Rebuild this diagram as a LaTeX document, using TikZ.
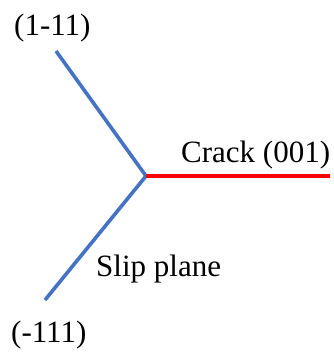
\documentclass[tikz,border=0pt]{standalone}
\usepackage{fontspec}
\setmainfont{Liberation Serif}
\usetikzlibrary{positioning}
\definecolor{sblue}{HTML}{4472C4}
\definecolor{cred}{HTML}{FF0000}

\begin{document}
\begin{tikzpicture}[x=1pt, y=-1pt,
    plane/.style={line width=3.6pt, sblue},
    crack/.style={line width=3.6pt, cred},
    lbl/.style={font=\fontsize{31}{37}\selectfont, inner sep=0pt, anchor=base west},
]
\useasboundingbox (0,0) rectangle (334,353);

% Junction and ends
\coordinate (tip) at (146,176);
\coordinate (upper) at (56,51);
\coordinate (lower) at (45,300);
\coordinate (crackend) at (330,176);

% Slip planes and crack
\draw[plane] (upper) -- (tip);
\draw[plane] (tip) -- (lower);
\draw[crack] (tip) -- (crackend);

% Labels
\node[lbl] (upperlbl) at (14,36) {(1-11)};
\node[lbl] (lowerlbl) at (11,342) {(-111)};
\node[lbl] (cracklbl) at (181,162) {Crack (001)};
\node[lbl] (sliplbl) at (96,276) {Slip plane};

\end{tikzpicture}
\end{document}
